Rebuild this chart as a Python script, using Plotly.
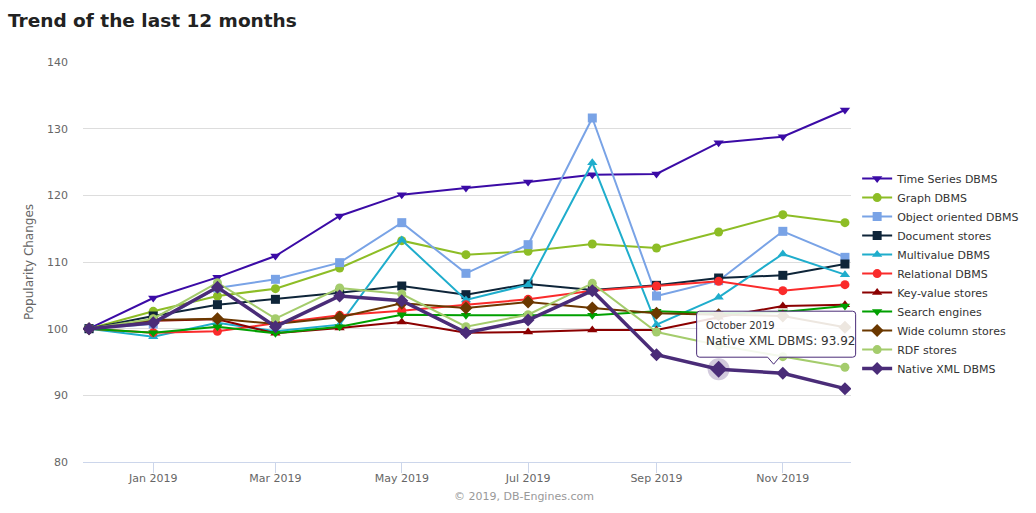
import pandas as pd
import plotly.graph_objects as go

months = ["2018-12-01", "2019-01-01", "2019-02-01", "2019-03-01", "2019-04-01",
          "2019-05-01", "2019-06-01", "2019-07-01", "2019-08-01", "2019-09-01",
          "2019-10-01", "2019-11-01", "2019-12-01"]

series_names = ["Time Series DBMS", "Graph DBMS", "Object oriented DBMS", "Document stores",
                "Multivalue DBMS", "Relational DBMS", "Key-value stores", "Search engines",
                "Wide column stores", "RDF stores", "Native XML DBMS"]

time_series = [100, 104.6, 107.7, 110.9, 116.9, 120.1, 121.1, 122.0, 123.1, 123.2, 127.9, 128.8, 132.8]
graph = [100, 102.6, 104.9, 106.0, 109.1, 113.2, 111.1, 111.6, 112.7, 112.1, 114.5, 117.1, 115.9]
object_oriented = [100, 100.7, 106.1, 107.4, 109.9, 115.9, 108.3, 112.6, 131.6, 104.9, 107.2, 114.6, 110.7]
document = [100, 101.9, 103.6, 104.4, 105.4, 106.4, 105.1, 106.7, 105.8, 106.5, 107.6, 108.0, 109.7]
multivalue = [100, 98.8, 100.9, 99.6, 100.6, 113.3, 104.3, 106.6, 124.9, 100.6, 104.7, 111.2, 108.1]
relational = [100, 99.4, 99.6, 100.8, 102.0, 102.7, 103.6, 104.4, 105.7, 106.4, 107.1, 105.7, 106.6]
key_value = [100, 101.2, 101.4, 99.3, 100.1, 101.0, 99.4, 99.5, 99.8, 99.8, 101.7, 103.4, 103.6]
search_engines = [100, 99.4, 100.3, 99.3, 100.3, 102.1, 102.0, 102.0, 102.0, 102.6, 102.3, 102.5, 103.4]
wide_column = [100, 101.3, 101.5, 100.7, 101.7, 103.8, 103.1, 104.0, 103.1, 102.3, 102.1, 101.9, 100.2]
rdf = [100, 101.5, 106.9, 101.5, 106.1, 105.2, 100.3, 102.1, 106.8, 99.5, 97.5, 95.8, 94.2]
native_xml = [100, 100.9, 106.2, 100.3, 104.9, 104.2, 99.4, 101.3, 105.7, 96.1, 93.92, 93.3, 91.0]

all_values = [time_series, graph, object_oriented, document, multivalue, relational,
              key_value, search_engines, wide_column, rdf, native_xml]
colors = ["#3b0ba6", "#8dbd26", "#79a3e6", "#0e2539", "#1fadcc", "#fa2b2b",
          "#8b0000", "#00a000", "#6b3800", "#a4cc6c", "#4a2c78"]
symbols = ["triangle-down", "circle", "square", "square", "triangle-up", "circle",
           "triangle-up", "triangle-down", "diamond", "circle", "diamond"]
widths = [2, 2, 2, 2, 2, 2, 2, 2, 2, 2, 3.5]

hover_index = 10  # October 2019 for Native XML DBMS
x_range = ["2018-11-28 02:00", "2019-12-03 22:00"]

fig = go.Figure()
for name, vals, col, sym, w in zip(series_names, all_values, colors, symbols, widths):
    fig.add_trace(go.Scatter(
        x=months, y=vals, name=name, mode="lines+markers",
        line=dict(color=col, width=w),
        marker=dict(symbol=sym, size=9 if sym != "diamond" else 10, color=col),
        hoverinfo="skip",
    ))

# hover halo on the highlighted point
fig.add_trace(go.Scatter(
    x=[months[hover_index]], y=[native_xml[hover_index]], mode="markers",
    marker=dict(symbol="circle", size=22, color="rgba(74,44,120,0.25)"),
    showlegend=False, hoverinfo="skip",
))
fig.add_trace(go.Scatter(
    x=[months[hover_index]], y=[native_xml[hover_index]], mode="markers",
    marker=dict(symbol="diamond", size=13, color="#4a2c78"),
    showlegend=False, hoverinfo="skip",
))

# tooltip box with pointer (pixel offsets relative to the hovered point);
# anchored in paper x so it is not clipped by the plot area
r0, r1 = pd.Timestamp(x_range[0]), pd.Timestamp(x_range[1])
hover_frac = (pd.Timestamp(months[hover_index]) - r0) / (r1 - r0)
fig.add_shape(
    type="path", xref="paper", yref="y", xsizemode="pixel", ysizemode="pixel",
    xanchor=hover_frac, yanchor=native_xml[hover_index],
    path="M -19,58 L 134,58 Q 137,58 137,55 L 137,15 Q 137,12 134,12 L 61,12 L 55,5 L 49,12 "
         "L -19,12 Q -22,12 -22,15 L -22,55 Q -22,58 -19,58 Z",
    line=dict(color="#4a2c78", width=1),
    fillcolor="rgba(255,255,255,0.88)",
    layer="above",
)
fig.add_annotation(
    x=months[hover_index], y=native_xml[hover_index], xref="x", yref="y",
    xanchor="left", yanchor="middle", xshift=-15, yshift=35, align="left",
    showarrow=False,
    text="<span style='font-size:10px'>October 2019</span><br>"
         f"{series_names[hover_index]}: {native_xml[hover_index]:.2f}",
    font=dict(family="DejaVu Sans", size=12, color="#333333"),
)

fig.add_annotation(
    x=(527 - 83) / 773, y=(462 - 496) / 400, xref="paper", yref="paper",
    xanchor="center", yanchor="middle", showarrow=False,
    text="© 2019, DB-Engines.com",
    font=dict(family="DejaVu Sans", size=11, color="#999999"),
)

fig.update_layout(
    width=1036, height=513,
    margin=dict(l=83, r=180, t=62, b=51),
    paper_bgcolor="white", plot_bgcolor="white",
    title=dict(text="<b>Trend of the last 12 months</b>", x=8 / 1036, xanchor="left",
               y=1 - 21 / 513, yanchor="middle",
               font=dict(family="DejaVu Sans", size=18.5, color="#222222")),
    font=dict(family="DejaVu Sans", size=11, color="#666666"),
    showlegend=True,
    legend=dict(x=1.008, xanchor="left", y=0.471, yanchor="middle",
                font=dict(family="DejaVu Sans", size=11, color="#333333"),
                itemwidth=30, tracegroupgap=0, bgcolor="rgba(0,0,0,0)"),
    hovermode=False,
)
fig.update_xaxes(
    type="date", range=x_range,
    tick0="2019-01-01", dtick="M2", tickformat="%b %Y",
    showgrid=False, showline=True, linecolor="#ccd6eb", linewidth=1,
    ticks="outside", ticklen=10, tickcolor="#ccd6eb",
    ticklabelstandoff=-4,
    tickfont=dict(family="DejaVu Sans", size=11, color="#666666"),
    zeroline=False,
)
fig.update_yaxes(
    range=[80, 140], dtick=10, tick0=80,
    showgrid=True, gridcolor="#dddddd", gridwidth=1,
    zeroline=False, showline=False,
    ticklabelstandoff=14,
    tickfont=dict(family="DejaVu Sans", size=11, color="#666666"),
    title=dict(text="Popularity Changes", standoff=10,
               font=dict(family="DejaVu Sans", size=12, color="#666666")),
)

fig.write_html("out.html", config={"displayModeBar": False},
               post_script="document.body.style.margin='0';")
